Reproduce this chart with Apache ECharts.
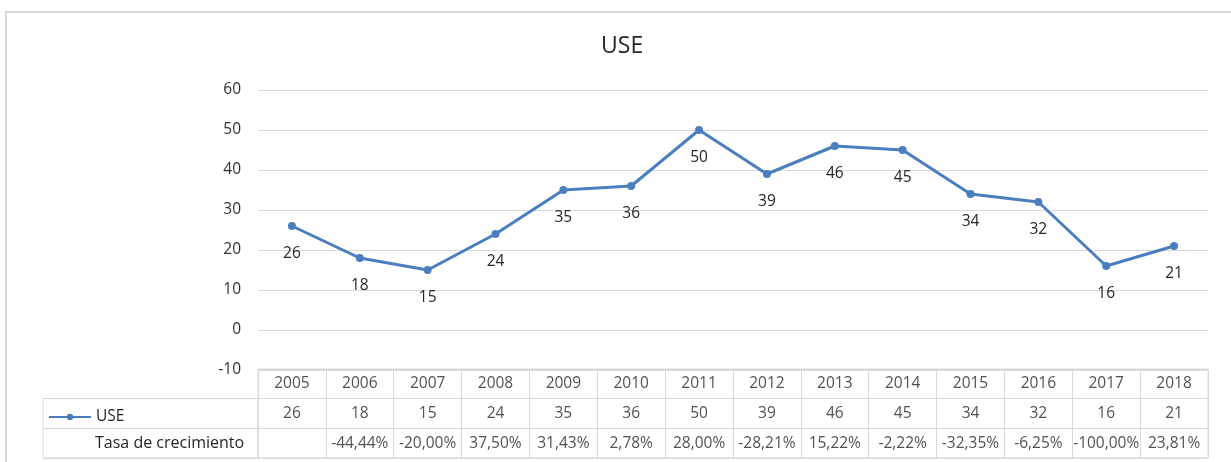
<!DOCTYPE html>
<html>
<head>
<meta charset="utf-8">
<script src="https://cdn.jsdelivr.net/npm/echarts@6/dist/echarts.min.js"></script>
<style>
html,body{margin:0;padding:0;background:#fff;}
#c{width:1231px;height:462px;}
</style>
</head>
<body>
<div id="c"></div>
<script>
var years = ['2005','2006','2007','2008','2009','2010','2011','2012','2013','2014','2015','2016','2017','2018'];
var useValues = [26, 18, 15, 24, 35, 36, 50, 39, 46, 45, 34, 32, 16, 21];
var growthRates = ['', '-44,44%', '-20,00%', '37,50%', '31,43%', '2,78%', '28,00%', '-28,21%', '15,22%', '-2,22%', '-32,35%', '-6,25%', '-100,00%', '23,81%'];
var yTicks = {min: -10, max: 60, interval: 10};
var rowNames = ['USE', 'Tasa de crecimiento'];

var FONT = 'Open Sans';
var TXT = '#262626';
var GRIDC = '#d9d9d9';
var LINEC = '#4A7EBF';

var tableCells = [];
for (var i = 0; i < years.length; i++) {
  tableCells.push([i, 0, years[i]]);
  tableCells.push([i, 1, String(useValues[i])]);
  tableCells.push([i, 2, growthRates[i]]);
}

var chart = echarts.init(document.getElementById('c'), null, {renderer: 'canvas'});
chart.setOption({
  backgroundColor: '#fff',
  animation: false,
  title: {
    text: 'USE', left: 596, top: 30,
    textStyle: {fontFamily: FONT, fontSize: 23, fontWeight: 'normal', color: '#262626'}
  },
  graphic: [{
    type: 'rect', silent: true,
    shape: {x: 6, y: 12, width: 1240, height: 500},
    style: {fill: 'none', stroke: GRIDC, lineWidth: 2}
  }],
  legend: {
    data: ['USE'], left: 43, top: 404, itemWidth: 42, itemHeight: 8, itemGap: 6,
    textStyle: {fontFamily: FONT, fontSize: 15.5, color: TXT}
  },
  grid: [
    {left: 258, right: 23, top: 90, bottom: 92},
    {left: 258, right: 23, top: 369, bottom: 4, show: true, borderColor: GRIDC, borderWidth: 1},
    {left: 43, width: 215, top: 398.67, bottom: 4, show: true, borderColor: GRIDC, borderWidth: 1}
  ],
  xAxis: [
    {gridIndex: 0, type: 'category', data: years, boundaryGap: true,
     axisLine: {show: false}, axisTick: {show: false}, axisLabel: {show: false}},
    {gridIndex: 1, type: 'category', data: years, boundaryGap: true,
     axisLine: {show: false}, axisTick: {show: false}, axisLabel: {show: false},
     splitLine: {show: true, lineStyle: {color: GRIDC, width: 1}}},
    {gridIndex: 2, type: 'value', show: false}
  ],
  yAxis: [
    {gridIndex: 0, type: 'value', min: yTicks.min, max: yTicks.max, interval: yTicks.interval,
     axisLine: {show: false}, axisTick: {show: false},
     axisLabel: {fontFamily: FONT, fontSize: 15.5, color: '#333333', margin: 17},
     splitLine: {lineStyle: {color: GRIDC, width: 1}}},
    {gridIndex: 1, type: 'category', data: ['h', 'v', 'r'], inverse: true,
     axisLine: {show: false}, axisTick: {show: false}, axisLabel: {show: false},
     splitLine: {show: true, lineStyle: {color: GRIDC, width: 1}}},
    {gridIndex: 2, type: 'category', data: ['', rowNames[1]], inverse: true,
     axisLine: {show: false}, axisTick: {show: false},
     axisLabel: {inside: true, margin: 52, fontFamily: FONT, fontSize: 16, color: TXT},
     splitLine: {show: true, lineStyle: {color: GRIDC, width: 1}}}
  ],
  series: [
    {
      name: 'USE', type: 'line', xAxisIndex: 0, yAxisIndex: 0,
      data: useValues,
      symbol: 'circle', symbolSize: 8,
      lineStyle: {color: LINEC, width: 3},
      itemStyle: {color: LINEC},
      label: {show: true, position: 'bottom', distance: 16,
              fontFamily: FONT, fontSize: 15.5, color: TXT}
    },
    {
      name: 'table', type: 'scatter', xAxisIndex: 1, yAxisIndex: 1,
      data: tableCells, symbolSize: 0, silent: true,
      label: {show: true, position: 'inside', fontFamily: FONT, fontSize: 15.5, color: TXT,
              formatter: function (p) { return p.value[2]; }}
    }
  ]
});
</script>
</body>
</html>
